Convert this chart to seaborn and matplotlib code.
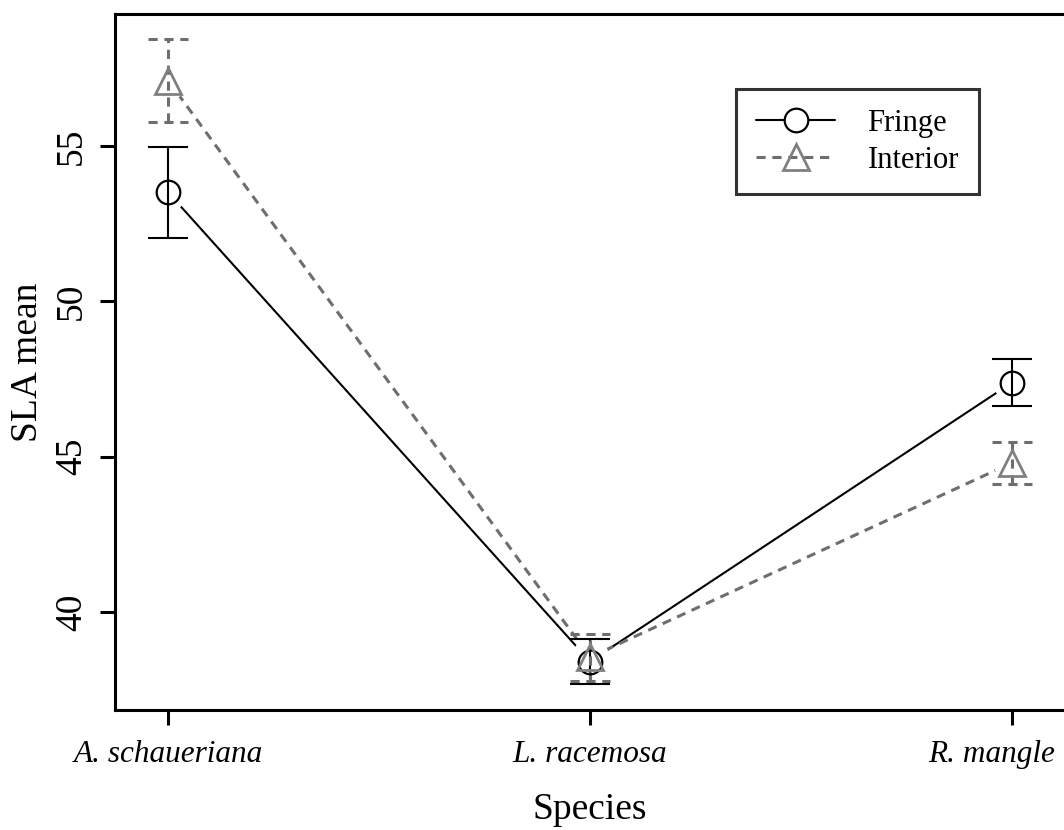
import matplotlib
matplotlib.use("Agg")
import matplotlib.pyplot as plt
import matplotlib.transforms as mtransforms
import seaborn as sns
import numpy as np
import pandas as pd
from matplotlib.lines import Line2D

species = ["A. schaueriana", "L. racemosa", "R. mangle"]
fringe_mean = [53.5, 38.41, 47.38]
fringe_se = [1.46, 0.72, 0.76]
interior_mean = [57.1, 38.55, 44.8]
interior_se = [1.33, 0.76, 0.68]
yticks = [40, 45, 50, 55]

sns.set_style("white")
plt.rcParams["font.family"] = ["Liberation Serif", "DejaVu Serif"]
plt.rcParams["text.color"] = "black"
plt.rcParams["axes.labelcolor"] = "black"
plt.rcParams["xtick.color"] = "black"
plt.rcParams["ytick.color"] = "black"

fig = plt.figure(figsize=(10.64, 8.3), dpi=100)
ax = fig.add_axes([115 / 1064, 1 - 710 / 830, 950 / 1064, 696 / 830])

pos = np.arange(len(species))
df = pd.DataFrame({
    "pos": np.concatenate([pos, pos]),
    "mean": fringe_mean + interior_mean,
    "group": ["Fringe"] * 3 + ["Interior"] * 3,
})

grey = "#6e6e6e"
tri_grey = "#808080"
dash = (0, (3, 2.2))

sns.lineplot(data=df[df.group == "Fringe"], x="pos", y="mean", ax=ax,
             color="black", lw=1.5, zorder=1, legend=False)
sns.lineplot(data=df[df.group == "Interior"], x="pos", y="mean", ax=ax,
             color=grey, lw=2.2, zorder=1, legend=False)
ax.lines[-1].set_linestyle(dash)

# white gaps around points (R type="b")
ax.plot(pos, fringe_mean, ls="none", marker="o", ms=27, mfc="white", mec="none", zorder=2)
ax.plot(pos, interior_mean, ls="none", marker="o", ms=27, mfc="white", mec="none", zorder=2)

ax.errorbar(pos, fringe_mean, yerr=fringe_se, fmt="none", ecolor="black",
            elinewidth=1.5, capsize=14.4, capthick=1.5, zorder=3)
eb2 = ax.errorbar(pos, interior_mean, yerr=interior_se, fmt="none", ecolor=grey,
                  elinewidth=2.2, capsize=0, zorder=3)
for c in eb2.lines[2]:
    c.set_linestyle(dash)
for x, m, s in zip(pos, interior_mean, interior_se):
    for yy in (m - s, m + s):
        ax.plot([x - 0.048, x + 0.048], [yy, yy], color=grey, lw=2.2,
                ls=dash, zorder=3)

ax.plot(pos, fringe_mean, ls="none", marker="o", ms=17, mfc="none", mec="black",
        mew=1.6, zorder=4)
ax.plot(pos, interior_mean, ls="none", marker="^", ms=19, mfc="none", mec=tri_grey,
        mew=2.0, zorder=4)

ax.set_xlim(-0.126, 2.126)
ax.set_ylim(36.85, 59.24)
ax.set_xticks(pos)
ax.set_xticklabels(species, fontsize=22.5, fontstyle="italic")
ax.set_yticks(yticks)
ax.set_yticklabels([str(t) for t in yticks], fontsize=27, rotation=90, va="center")
ax.tick_params(axis="both", direction="out", length=10.8, width=2.2, color="black",
               left=True, bottom=True)
ax.tick_params(axis="y", pad=8)
ax.tick_params(axis="x", pad=11)
ax.set_xlabel("Species", fontsize=27, labelpad=17)
ax.set_ylabel("SLA mean", fontsize=27, labelpad=6.5)

# last x tick label kept inside the device (as R does)
last = ax.get_xticklabels()[-1]
last.set_horizontalalignment("right")
last.set_transform(last.get_transform() +
                   mtransforms.ScaledTranslation(43 / 100, 0, fig.dpi_scale_trans))

for side in ["left", "top", "bottom"]:
    ax.spines[side].set_visible(True)
    ax.spines[side].set_color("black")
    ax.spines[side].set_linewidth(2.2)
ax.spines["right"].set_visible(False)

handles = [
    Line2D([0], [0], color="black", lw=1.5, marker="o", ms=17, mfc="white",
           mec="black", mew=1.6),
    Line2D([0], [0], color=grey, lw=2.2, ls=dash, marker="^", ms=19,
           mfc="none", mec=tri_grey, mew=2.0),
]
leg = fig.legend(handles, ["Fringe", "Interior"], loc="upper left",
                 bbox_to_anchor=(736 / 1064, 1 - 89 / 830), fontsize=22,
                 frameon=True, fancybox=False, edgecolor="black",
                 handlelength=2.6, handletextpad=1.05, borderpad=0.65,
                 labelspacing=0.25, borderaxespad=0)
leg.get_frame().set_linewidth(2.2)
for t in leg.get_texts():
    t.set_color("black")

fig.savefig("out.png", dpi=100)
